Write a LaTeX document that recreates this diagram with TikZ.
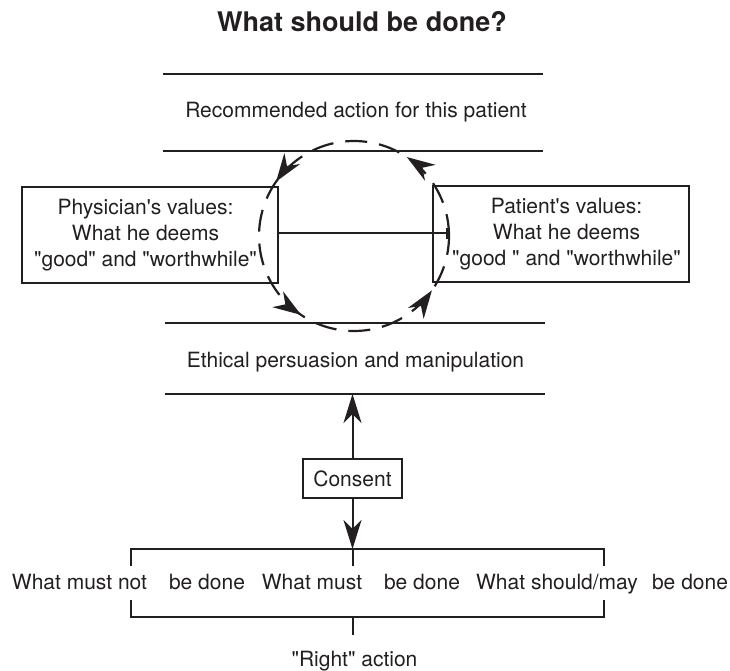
\documentclass[tikz,border=0pt]{standalone}
\usepackage{fontspec}
\setmainfont{TeX Gyre Heros}[Ligatures=TeXOff]
\usetikzlibrary{arrows.meta,decorations.markings}
\definecolor{ink}{RGB}{35,31,32}
\begin{document}
\begin{tikzpicture}[x=1pt,y=-1pt,color=ink,
  every node/.style={font=\fontsize{21}{26}\selectfont},
  rule/.style={draw=ink,line width=2pt},
  box/.style={draw=ink,line width=2pt,inner sep=0pt},
  tip/.style={-{Stealth[length=29pt,width=18pt,inset=9pt]}},
  loop/.style={draw=ink,line width=2.2pt,dash pattern=on 22pt off 12pt,
    postaction=decorate,
    decoration={markings,
      mark=at position 0.156 with {\arrow{Stealth[length=28pt,width=19pt,inset=9pt]}},
      mark=at position 0.403 with {\arrow{Stealth[length=28pt,width=19pt,inset=9pt]}},
      mark=at position 0.656 with {\arrow{Stealth[length=28pt,width=19pt,inset=9pt]}},
      mark=at position 0.903 with {\arrow{Stealth[length=28pt,width=19pt,inset=9pt]}}}}
]
\useasboundingbox (0,0) rectangle (730,671);

% title
\node[anchor=base,font=\bfseries\fontsize{27}{32}\selectfont] (title) at (362,32) {What should be done?};

% band: recommended action
\coordinate (r1a) at (163,74);  \coordinate (r1b) at (543,74);
\coordinate (r2a) at (163,151); \coordinate (r2b) at (543,151);
\draw[rule] (r1a) -- (r1b);
\draw[rule] (r2a) -- (r2b);
\node[anchor=base] (rec) at (356,118) {Recommended action for this patient};

% band: ethical persuasion
\coordinate (e1a) at (165,323); \coordinate (e1b) at (545,323);
\coordinate (e2a) at (165,394); \coordinate (e2b) at (545,394);
\draw[rule] (e1a) -- (e1b);
\draw[rule] (e2a) -- (e2b);
\node[anchor=base] (eth) at (355.5,367) {Ethical persuasion and manipulation};

% the two value boxes, with their texts set slightly off centre
\node[box,minimum width=256pt,minimum height=96pt] (phys) at (150,235) {};
\node[align=center,inner sep=0pt] (physt) at (145.5,235)
  {Physician's values:\\What he deems\\"good" and "worthwhile"};
\node[box,minimum width=256pt,minimum height=96pt] (pat) at (561,234) {};
\node[align=center,inner sep=0pt] (patt) at (566.5,234)
  {Patient's values:\\What he deems\\"good " and "worthwhile"};

% link between the boxes and the dashed cycle
\coordinate (cc) at (354,236);
\coordinate (tick) at (448,233);
\draw[rule,-{Bar[width=11pt]}] (phys.east |- tick) -- (tick);
\draw[loop] (cc) ++(95,0) arc[start angle=0,end angle=-360,radius=95];

% consent
\node[box,minimum width=99pt,minimum height=39pt] (cons) at (352.5,478.5) {Consent};
\draw[rule,tip] (cons.north) -- (cons.north |- e2a);

% upper bracket
\coordinate (bl) at (131,549); \coordinate (br) at (604,549);
\draw[rule,tip] (cons.south) -- (cons.south |- bl);
\draw[rule] (bl) ++(0,17) -- (bl) -- (br) -- ++(0,17);
\draw[rule] (cons.south |- bl) -- ++(0,17);

% row of categories
\node[anchor=base] (n1) at (79.5,589) {What must not};
\node[anchor=base] (n2) at (207,589) {be done};
\node[anchor=base] (n3) at (312,589) {What must};
\node[anchor=base] (n4) at (422,589) {be done};
\node[anchor=base] (n5) at (557,589) {What should/may};
\node[anchor=base] (n6) at (690,589) {be done};

% lower bracket
\coordinate (dl) at (131,617); \coordinate (dr) at (604,617);
\draw[rule] (dl) ++(0,-17) -- (dl) -- (dr) -- ++(0,-17);
\draw[rule] (cons.south |- dl) -- ++(0,18);
\node[anchor=base] (right) at (354.5,666) {"Right" action};
\end{tikzpicture}
\end{document}
